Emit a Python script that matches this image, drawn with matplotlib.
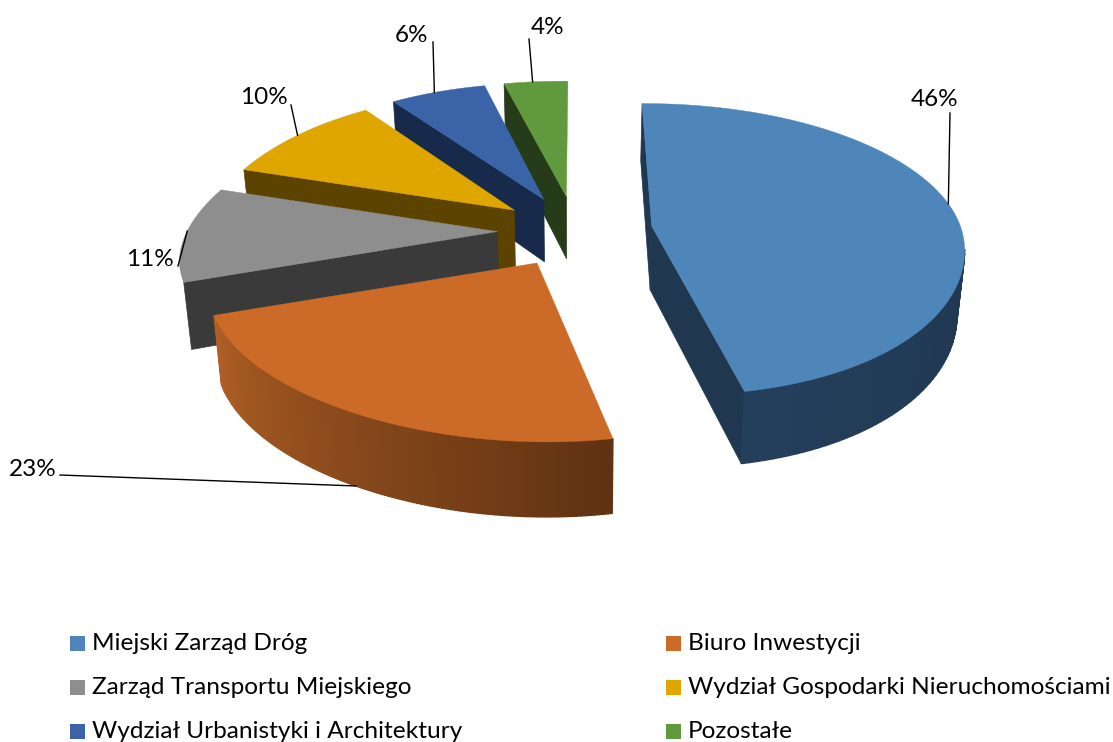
import numpy as np
import matplotlib
matplotlib.use("Agg")
import matplotlib.pyplot as plt
from matplotlib.patches import Polygon, Rectangle
from matplotlib.colors import to_rgb

categories = ["Miejski Zarząd Dróg", "Biuro Inwestycji", "Zarząd Transportu Miejskiego",
              "Wydział Gospodarki Nieruchomościami", "Wydział Urbanistyki i Architektury", "Pozostałe"]
values = [46, 23, 11, 10, 6, 4]
labels = ["46%", "23%", "11%", "10%", "6%", "4%"]
top_colors = ["#4E86BA", "#CC6B28", "#8E8E8E", "#DFA600", "#3B63A8", "#619A3E"]
wall_colors = ["#203750", "#5F3212", "#3A3A3A", "#5C4400", "#182A4C", "#263C19"]
side_left = ["#243F5C", "#B05F24", "#3A3A3A", "#5C4400", "#182A4C", "#263C19"]
side_right = ["#203750", "#5F3212", "#3A3A3A", "#5C4400", "#182A4C", "#263C19"]

# projection layout (pixels)
CX, CY, RX, AY, SH, P = 575, 230.5, 310, 142, 10, 0.15
EXPLODE, DEPTH, Q = 0.25, 64, 0.12
NEAR_TILT, FAR_SQUEEZE, FAR_LIFT, SOFT = 15, 7, 5, 0.25

def soft_pos(v):
    return (np.sqrt(v * v + SOFT * SOFT) + v) / 2 - SOFT / 2

def proj(px, py, bottom=False):
    d = 1 + P * py
    near, far, left = soft_pos(-py), soft_pos(py), soft_pos(-px)
    x = CX + (RX * px - SH * near) / d + FAR_SQUEEZE * far * left
    y = CY - AY * py / d - NEAR_TILT * (-px) * near - FAR_LIFT * far * left
    if bottom:
        y = y + DEPTH / (1 + Q * py)
        x = CX + (x - CX) * 0.98
    return x, y

fig = plt.figure(figsize=(11.13, 7.42), dpi=100)
ax = fig.add_axes([0, 0, 1, 1])
ax.set_xlim(0, 1113)
ax.set_ylim(742, 0)
ax.axis("off")
FONT = "Lato"

edges = np.cumsum([0] + values) / sum(values) * 2 * np.pi
wedges = []
for i in range(len(values)):
    a0, a1 = edges[i], edges[i + 1]
    mid = (a0 + a1) / 2
    ox, oy = EXPLODE * np.sin(mid), EXPLODE * np.cos(mid)
    th = np.linspace(a0, a1, 120)
    wedges.append((ox, oy, th, a0, a1))

wall_angles = {0: "both", 1: "none", 2: "start", 3: "start", 4: "start", 5: "start"}
for i in [5, 4, 3, 2, 0, 1]:
    ox, oy, th, a0, a1 = wedges[i]
    px, py = ox + np.sin(th), oy + np.cos(th)
    # radial walls that face the viewer
    angles = {"both": (a0, a1), "none": (), "start": (a0,)}[wall_angles[i]]
    for a in angles:
        qx, qy = ox + np.sin(a), oy + np.cos(a)
        poly = [proj(ox, oy), proj(qx, qy), proj(qx, qy, True), proj(ox, oy, True)]
        ax.add_patch(Polygon(poly, closed=True, fc=wall_colors[i], ec=wall_colors[i], lw=0.5))
    # outer rim, front-facing part only (the two front slices show one)
    if i < 2:
        idx = np.where(np.cos(th) < -0.15)[0]
        c0, c1 = np.array(to_rgb(side_right[i])), np.array(to_rgb(side_left[i]))
        for j in idx[:-1]:
            x0, y0 = proj(px[j], py[j]); x1, y1 = proj(px[j + 1], py[j + 1])
            xb0, yb0 = proj(px[j], py[j], True); xb1, yb1 = proj(px[j + 1], py[j + 1], True)
            f = (j - idx[0]) / max(1, len(idx) - 2)
            col = c0 + (c1 - c0) * f
            ax.add_patch(Polygon([(x0, y0), (x1, y1), (xb1, yb1), (xb0, yb0)], closed=True, fc=col, ec=col, lw=1.0))
    # top face
    pts = [proj(ox, oy)] + [proj(a, b) for a, b in zip(px, py)]
    ax.add_patch(Polygon(pts, closed=True, fc=top_colors[i], ec=top_colors[i], lw=0.3))

# labels and leaders
label_pos = [(935, 100), (33, 470), (150, 260), (264, 98), (412, 36), (548, 28)]
leader_end = [(950, 113), (60, 475), (178, 266), (291, 105), (433, 42), (529, 39)]
leader_frac = [0.49, 0.50, 0.55, 0.50, 0.46, 0.45]
for i in range(len(values)):
    ox, oy, th, a0, a1 = wedges[i]
    a = a0 + (a1 - a0) * leader_frac[i]
    anchor = proj(ox + np.sin(a), oy + np.cos(a), bottom=(i == 1))
    ax.plot([leader_end[i][0], anchor[0]], [leader_end[i][1], anchor[1]], color="black", lw=1, zorder=5)
    ax.text(*label_pos[i], labels[i], ha="center", va="center", fontsize=17.5, family=FONT, color="black")

# legend
leg_x = [70, 666]
leg_y = [644, 688, 732]
for i, name in enumerate(categories):
    x, y = leg_x[i % 2], leg_y[i // 2]
    ax.add_patch(Rectangle((x, y - 8), 15, 15, fc=top_colors[i], ec="none"))
    ax.text(x + 22, y, name, ha="left", va="center", fontsize=17.6, family=FONT, color="black")

fig.savefig("out.png", dpi=100)
